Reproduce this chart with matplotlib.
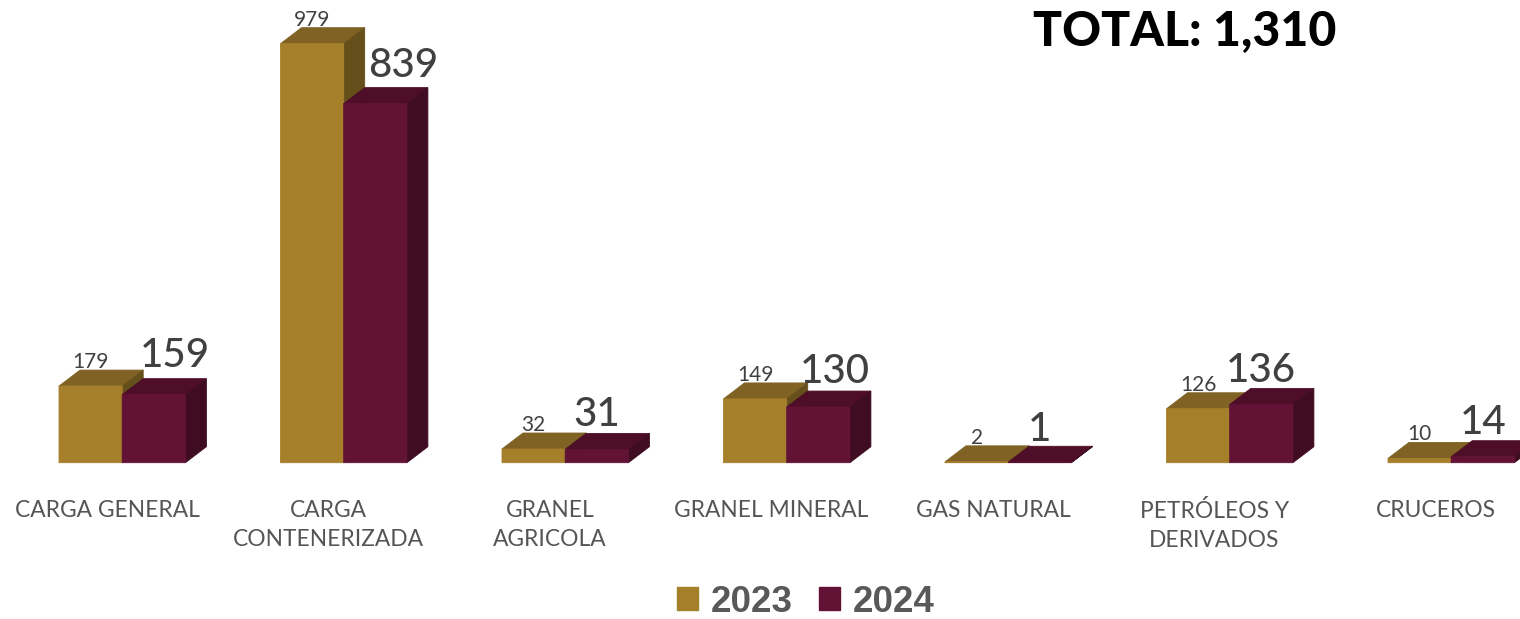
import matplotlib
matplotlib.use("Agg")
import matplotlib.pyplot as plt
from matplotlib.patches import Patch

categories = ['CARGA GENERAL', 'CARGA\nCONTENERIZADA', 'GRANEL\nAGRICOLA', 'GRANEL MINERAL',
              'GAS NATURAL', 'PETRÓLEOS Y\nDERIVADOS', 'CRUCEROS']
values_2023 = [179, 979, 32, 149, 2, 126, 10]
values_2024 = [159, 839, 31, 130, 1, 136, 14]

# label nudges in pixels, the big labels dodge the neighbouring bar
dx_2024 = [21, 28, 0, 17, 0, 0, 0]
gap_2024 = [12, 11, 7, 8, 5, 6, 7]

GOLD = ['#A67F2B', '#7F6224', '#65501C']
WINE = ['#621235', '#4F0E28', '#3F0C21']

W, H = 1520, 619
BASE = 462.7
PX_PER_UNIT = 0.428
BAR_W = 63.2
DEPTH_X, DEPTH_Y = 21, 16 / PX_PER_UNIT
STEP = 221.5
X0 = 59

plt.rcParams['font.family'] = ['Lato', 'DejaVu Sans']

fig = plt.figure(figsize=(W / 100, H / 100), dpi=100)
ax = fig.add_axes([0, 0, 1, 1])
ax.set_xlim(0, W)
ax.set_ylim(-(H - BASE) / PX_PER_UNIT, BASE / PX_PER_UNIT)

# set_position resets the ticks, so it has to come before the tick setup
for s in ax.spines.values():
    s.set_visible(False)
ax.spines['bottom'].set_position(('data', 0))


def draw_box(x, v, colors):
    ax.fill([x, x + DEPTH_X, x + BAR_W + DEPTH_X, x + BAR_W],
            [v, v + DEPTH_Y, v + DEPTH_Y, v], facecolor=colors[1], edgecolor=colors[1], linewidth=0.6)
    ax.fill([x + BAR_W, x + BAR_W + DEPTH_X, x + BAR_W + DEPTH_X, x + BAR_W],
            [0, DEPTH_Y, v + DEPTH_Y, v], facecolor=colors[2], edgecolor=colors[2], linewidth=0.6)
    # no snapping here, a snapped front leaves a bright seam under the top face
    ax.bar(x, v, width=BAR_W, align='edge', color=colors[0], edgecolor=colors[0], linewidth=0.6, snap=False)


centers = []
for i, cat in enumerate(categories):
    x = X0 + i * STEP
    centers.append(x + 48)
    draw_box(x, values_2023[i], GOLD)
    draw_box(x + BAR_W, values_2024[i], WINE)

    ax.text(x + BAR_W / 2, values_2023[i] + DEPTH_Y + 2 / PX_PER_UNIT, str(values_2023[i]), ha='center',
            va='baseline', fontsize=15, color='#404040')
    ax.text(x + BAR_W * 1.5 + dx_2024[i], values_2024[i] + DEPTH_Y + gap_2024[i] / PX_PER_UNIT,
            str(values_2024[i]), ha='center', va='baseline', fontsize=29, fontweight='medium', color='#404040')

ax.set_xticks(centers, categories)
ax.set_yticks([])
ax.tick_params(axis='x', length=0, pad=27, labelsize=16.4, labelcolor='#555555')
for lbl in ax.get_xticklabels():
    lbl.set_linespacing(1.47)

ax.text(1185, (BASE - 46) / PX_PER_UNIT, 'TOTAL: 1,310', ha='center', va='baseline',
        fontsize=34.7, fontweight='black', color='black')

handles = [Patch(color=GOLD[0], label='2023'), Patch(color=WINE[0], label='2024')]
fig.legend(handles=handles, loc='center', bbox_to_anchor=(806 / W, 1 - 602 / H), ncol=2, frameon=False,
           handlelength=0.58, handleheight=0.58, handletextpad=0.35, columnspacing=0.7,
           prop={'family': 'Liberation Sans', 'weight': 'bold', 'size': 26.5}, labelcolor='#595959')

fig.savefig('out.png', dpi=100)
